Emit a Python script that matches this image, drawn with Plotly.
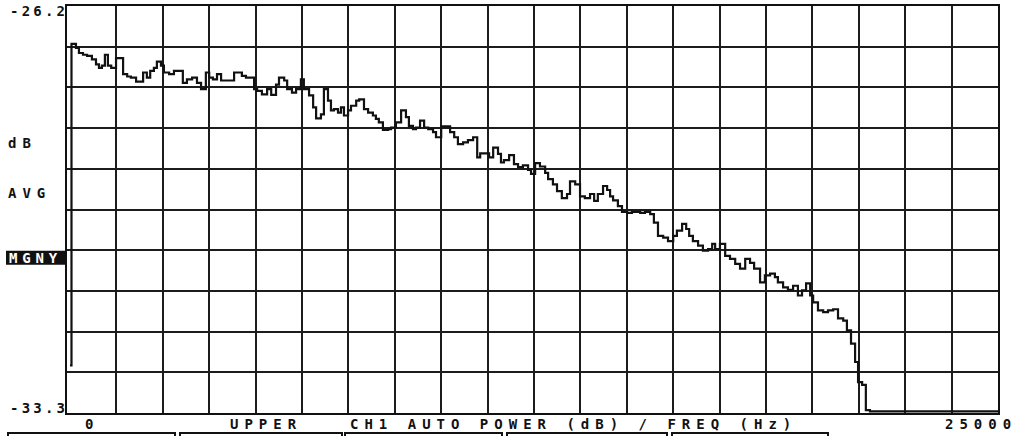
import plotly.graph_objects as go

# ---- data ----
# start frequency (Hz) of each step of the displayed spectrum and its level (dB)
freq_hz = [0, 40, 160, 240, 350, 460, 590, 700, 780, 860, 940, 1020, 1110, 1240, 1430,
           1540, 1640, 1780, 1970, 2070, 2160, 2260, 2340, 2450, 2530, 2670, 2800, 3040,
           3150, 3290, 3420, 3530, 3660, 3750, 3850, 3960, 4070, 4420, 4630, 4740, 4960,
           5040, 5170, 5310, 5420, 5550, 5630, 5770, 5850, 5980, 6090, 6220, 6300, 6440,
           6550, 6630, 6760, 6840, 6950, 7030, 7110, 7220, 7300, 7380, 7490, 7570, 7710,
           7790, 7920, 8030, 8160, 8240, 8320, 8430, 8570, 8650, 8780, 8920, 9050, 9130,
           9240, 9320, 9430, 9540, 9650, 9780, 9860, 10000, 10240, 10350, 10450, 10590,
           10720, 10860, 10970, 11050, 11290, 11400, 11530, 11610, 11690, 11830, 11960,
           12070, 12200, 12340, 12420, 12530, 12660, 12800, 12880, 13010, 13120, 13250,
           13390, 13470, 13610, 13740, 13870, 14010, 14120, 14220, 14360, 14470, 14550,
           14630, 14760, 14870, 15010, 15140, 15360, 15490, 15630, 15730, 15840, 15980,
           16110, 16250, 16350, 16490, 16600, 16680, 16780, 16920, 17050, 17190, 17300,
           17380, 17510, 17650, 17780, 17920, 18050, 18190, 18320, 18430, 18590, 18720,
           18860, 18990, 19070, 19210, 19340, 19480, 19610, 19720, 19830, 19940, 20020,
           20150, 20290, 20420, 20560, 20690, 20830, 20930, 21040, 21150, 21230, 21340,
           21440, 21550, 25000]
level_db = [-32.47, -26.86, -26.93, -27.02, -27.05, -27.07, -27.13, -27.22, -27.28, -27.24,
            -27.05, -27.24, -27.28, -27.11, -27.39, -27.43, -27.45, -27.52, -27.36, -27.45,
            -27.33, -27.28, -27.17, -27.24, -27.36, -27.39, -27.33, -27.54, -27.48, -27.45,
            -27.54, -27.65, -27.36, -27.45, -27.48, -27.39, -27.50, -27.36, -27.42, -27.45,
            -27.65, -27.68, -27.74, -27.65, -27.75, -27.57, -27.45, -27.50, -27.65, -27.71,
            -27.65, -27.48, -27.65, -27.76, -27.97, -28.16, -28.09, -27.65, -27.85, -28.02,
            -28.00, -28.06, -27.97, -28.11, -28.02, -27.94, -27.85, -27.83, -28.00, -28.06,
            -28.11, -28.17, -28.23, -28.36, -28.35, -28.32, -28.23, -28.02, -28.14, -28.29,
            -28.35, -28.32, -28.20, -28.32, -28.35, -28.40, -28.49, -28.30, -28.40, -28.49,
            -28.61, -28.58, -28.54, -28.49, -28.84, -28.77, -28.84, -28.67, -28.78, -28.93,
            -28.89, -28.80, -28.96, -29.01, -28.98, -29.06, -29.13, -28.94, -29.00, -29.11,
            -29.22, -29.31, -29.43, -29.55, -29.48, -29.26, -29.31, -29.52, -29.55, -29.48,
            -29.60, -29.48, -29.34, -29.41, -29.52, -29.59, -29.69, -29.79, -29.81, -29.79,
            -29.81, -29.79, -29.83, -29.98, -30.21, -30.24, -30.30, -30.21, -30.12, -30.00,
            -30.09, -30.21, -30.30, -30.38, -30.47, -30.44, -30.35, -30.44, -30.35, -30.56,
            -30.61, -30.70, -30.78, -30.61, -30.68, -30.78, -31.02, -30.90, -30.87, -30.93,
            -31.02, -31.11, -31.15, -31.08, -31.25, -31.16, -31.04, -31.25, -31.37, -31.51,
            -31.54, -31.51, -31.49, -31.65, -31.69, -31.86, -32.09, -32.41, -32.76, -32.81,
            -33.25, -33.27, -33.27]

x_start, x_end = 0, 25000
y_top, y_bottom = -26.2, -33.3
x_grid = [1250 * k for k in range(1, 20)]
y_grid = [round(y_top - 0.71 * k, 2) for k in range(1, 10)]

left_labels = ["-26.2", "dB", "AVG", "MGNY", "-33.3"]
bottom_labels = ["0", "UPPER", "CH1 AUTO POWER (dB) / FREQ (Hz)", "25000"]

# ---- layout geometry (pixels) ----
W, H = 1024, 436
L, R, T, B = 67, 998, 4, 413


def px(x):
    return (x - L) / (R - L)


def py(y):
    return (B - y) / (B - T)


fig = go.Figure()
fig.add_trace(go.Scatter(x=freq_hz, y=level_db, mode="lines",
                         line=dict(color="#111111", width=2.2, shape="hv"),
                         hoverinfo="skip", showlegend=False))

axis_common = dict(showticklabels=False, ticks="", showgrid=True, gridcolor="#1c1c1c",
                   gridwidth=2, zeroline=False, showline=True, mirror=True,
                   linecolor="#111111", linewidth=2)
fig.update_xaxes(range=[-81, x_end], tickvals=x_grid, **axis_common)
fig.update_yaxes(range=[y_bottom, y_top], tickvals=y_grid, **axis_common)

font = dict(family="DejaVu Sans Mono", size=14, color="#111111", weight="bold")
ann = []
# left side labels: text, left x, centre y
for text, lx, cy in zip(left_labels, [9, 7, 7, 8, 9], [9, 142, 192, 257, 408]):
    f = dict(font)
    if text == "MGNY":
        f["color"] = "white"
    ann.append(dict(text=text, x=px(lx), y=py(cy), xref="paper", yref="paper",
                    xanchor="left", yanchor="middle", align="left", showarrow=False,
                    font=f, borderpad=0))
for text, lx, cy in zip(bottom_labels, [84, 229, 349, 944], [424, 424, 424, 424]):
    ann.append(dict(text=text, x=px(lx), y=py(cy), xref="paper", yref="paper",
                    xanchor="left", yanchor="middle", align="left", showarrow=False,
                    font=font, borderpad=0))

shapes = []
# highlighted box behind MGNY
shapes.append(dict(type="rect", xref="paper", yref="paper", x0=px(6), x1=px(66),
                   y0=py(264), y1=py(250), fillcolor="#111111", line=dict(width=0),
                   layer="below"))
# softkey boxes at the bottom edge
for a, b in [(8, 175), (180, 342), (345, 502), (507, 667), (672, 828)]:
    shapes.append(dict(type="rect", xref="paper", yref="paper", x0=px(a), x1=px(b),
                       y0=py(445), y1=py(433), line=dict(color="#111111", width=2),
                       fillcolor="rgba(0,0,0,0)"))

fig.update_layout(width=W, height=H, margin=dict(l=L, r=W - R, t=T, b=H - B, pad=0),
                  paper_bgcolor="white", plot_bgcolor="white",
                  annotations=ann, shapes=shapes, showlegend=False)

post = """
document.body.style.margin='0';
document.body.style.overflow='hidden';
var st=document.createElement('style');
st.textContent='.annotation-text{letter-spacing:6px;}'
 + '.annotation[data-index="0"] .annotation-text,'
 + '.annotation[data-index="4"] .annotation-text{letter-spacing:3.2px;}'
 + '.annotation[data-index="3"] .annotation-text{letter-spacing:4.8px;}';
document.head.appendChild(st);
"""
fig.write_html("out.html", post_script=post, config={"displayModeBar": False})
